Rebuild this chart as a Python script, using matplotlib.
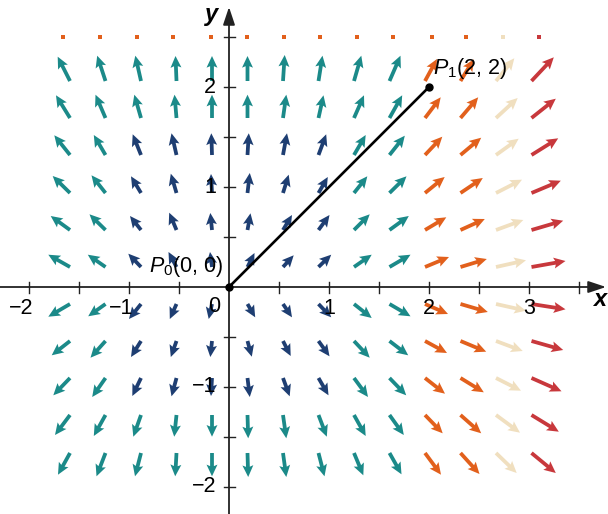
import matplotlib
matplotlib.use("Agg")
import matplotlib.pyplot as plt
import numpy as np

plt.rcParams["font.family"] = ["Liberation Sans", "DejaVu Sans"]
plt.rcParams["mathtext.fontset"] = "custom"
plt.rcParams["mathtext.rm"] = "Liberation Sans"
plt.rcParams["mathtext.it"] = "Liberation Sans:italic"

# arrow tails (grid columns / rows)
col_x = [-1.59, -1.235, -0.88, -0.525, -0.17, 0.185, 0.54, 0.895, 1.25, 1.605, 1.96, 2.315, 2.67, 3.025]
row_y = [2.06, 1.69, 1.32, 0.94, 0.57, 0.20, -0.17, -0.54, -0.91, -1.28, -1.66]

# arrow components (one list per row, left to right)
U = [
    [-0.123, -0.083, -0.057, -0.010, 0.000, 0.000, 0.017, 0.040, 0.073, 0.110, 0.120, 0.133, 0.183, 0.223],
    [-0.140, -0.100, -0.067, -0.020, 0.000, 0.000, 0.033, 0.050, 0.100, 0.127, 0.157, 0.177, 0.217, 0.243],
    [-0.157, -0.117, -0.083, -0.050, -0.007, 0.013, 0.040, 0.077, 0.117, 0.153, 0.173, 0.207, 0.227, 0.267],
    [-0.173, -0.140, -0.100, -0.057, -0.010, 0.023, 0.057, 0.093, 0.133, 0.170, 0.197, 0.223, 0.260, 0.293],
    [-0.193, -0.160, -0.110, -0.073, -0.017, 0.030, 0.090, 0.110, 0.157, 0.193, 0.213, 0.243, 0.273, 0.317],
    [-0.217, -0.177, -0.127, -0.080, -0.020, 0.070, 0.107, 0.127, 0.177, 0.210, 0.240, 0.263, 0.300, 0.340],
    [-0.217, -0.173, -0.120, -0.067, -0.033, 0.077, 0.090, 0.127, 0.177, 0.210, 0.230, 0.273, 0.300, 0.340],
    [-0.183, -0.150, -0.100, -0.057, -0.017, 0.043, 0.077, 0.110, 0.157, 0.187, 0.220, 0.257, 0.267, 0.317],
    [-0.167, -0.133, -0.087, -0.050, -0.010, 0.023, 0.067, 0.100, 0.140, 0.167, 0.200, 0.233, 0.250, 0.300],
    [-0.150, -0.117, -0.077, -0.023, 0.000, 0.007, 0.033, 0.083, 0.117, 0.143, 0.177, 0.207, 0.240, 0.273],
    [-0.120, -0.090, -0.060, -0.013, 0.000, 0.007, 0.033, 0.060, 0.093, 0.120, 0.160, 0.190, 0.207, 0.243],
]
V = [
    [0.243, 0.253, 0.253, 0.250, 0.250, 0.250, 0.260, 0.253, 0.253, 0.253, 0.220, 0.217, 0.227, 0.237],
    [0.227, 0.233, 0.233, 0.233, 0.233, 0.233, 0.233, 0.227, 0.227, 0.227, 0.207, 0.207, 0.200, 0.193],
    [0.197, 0.200, 0.207, 0.217, 0.217, 0.217, 0.217, 0.207, 0.200, 0.193, 0.183, 0.173, 0.163, 0.167],
    [0.170, 0.177, 0.167, 0.193, 0.190, 0.200, 0.183, 0.160, 0.167, 0.167, 0.160, 0.150, 0.133, 0.123],
    [0.140, 0.157, 0.140, 0.173, 0.170, 0.167, 0.150, 0.150, 0.157, 0.140, 0.127, 0.110, 0.100, 0.093],
    [0.123, 0.123, 0.133, 0.150, 0.150, 0.140, 0.117, 0.123, 0.123, 0.123, 0.100, 0.080, 0.067, 0.060],
    [-0.127, -0.123, -0.150, -0.150, -0.150, -0.133, -0.133, -0.133, -0.140, -0.123, -0.100, -0.080, -0.067, -0.053],
    [-0.143, -0.167, -0.160, -0.160, -0.160, -0.157, -0.150, -0.153, -0.167, -0.143, -0.120, -0.107, -0.100, -0.090],
    [-0.173, -0.190, -0.180, -0.183, -0.180, -0.190, -0.183, -0.173, -0.190, -0.173, -0.157, -0.143, -0.127, -0.133],
    [-0.200, -0.210, -0.217, -0.217, -0.217, -0.233, -0.233, -0.217, -0.210, -0.200, -0.183, -0.183, -0.177, -0.167],
    [-0.217, -0.233, -0.233, -0.233, -0.233, -0.240, -0.240, -0.233, -0.223, -0.213, -0.217, -0.210, -0.200, -0.200],
]
# colour class of each arrow: b navy, t teal, o orange, c cream, r red
arrow_cls = [
    "ttttttttttoocr",
    "ttttttttttoocr",
    "ttbbbbbbttoocr",
    "ttbbbbbbttoocr",
    "ttbbbbbbttoocr",
    "ttbbbbbbttoocr",
    "ttbbbbbbttoocr",
    "ttbbbbbbttoocr",
    "ttbbbbbbttoocr",
    "ttttttttttoocr",
    "ttttttttttoocr",
]

# tiny vectors along the top row, drawn as dots
dot_x = [-1.66, -1.29, -0.92, -0.56, -0.18, 0.18, 0.55, 0.91, 1.28, 1.64, 2.03, 2.37, 2.74, 3.10]
dot_y = 2.50
dot_cls = "oooooooooooocr"

palette = {"b": "#1e3e72", "t": "#1b8a89", "o": "#e2601c", "c": "#f0dfbf", "r": "#c8383c"}

# path
path_x = [0, 2]
path_y = [0, 2]

x_ticks = [-2, -1.5, -1, -0.5, 0.5, 1, 1.5, 2, 2.5, 3, 3.5]
y_ticks = [-2, -1.5, -1, -0.5, 0.5, 1, 1.5, 2, 2.5]
x_labels = {-2: "\u22122", -1: "\u22121", 1: "1", 2: "2", 3: "3"}
y_labels = {-2: "\u22122", -1: "\u22121", 1: "1", 2: "2"}

fig = plt.figure(figsize=(6.08, 5.14), dpi=100)
ax = fig.add_axes([0, 0, 1, 1])
ax.set_xlim(-2.29, 3.79)
ax.set_ylim(-2.27, 2.87)
ax.set_axis_off()

X, Y = np.meshgrid(col_x, row_y)
U = np.array(U)
V = np.array(V)
C = [palette[ch] for row in arrow_cls for ch in row]
ax.quiver(X.ravel(), Y.ravel(), U.ravel(), V.ravel(), color=C,
          angles="xy", scale_units="xy", scale=1, pivot="tail",
          width=0.0062, headwidth=2.9, headlength=3.1, headaxislength=2.7,
          zorder=2)

ax.scatter(dot_x, [dot_y] * len(dot_x), s=6, marker="s",
           c=[palette[ch] for ch in dot_cls], linewidths=0, zorder=2)

# axes with arrowheads
axis_col = "#222222"
ax.annotate("", xy=(3.77, 0), xytext=(-2.29, 0),
            arrowprops=dict(arrowstyle="-|>,head_length=0.6,head_width=0.2",
                            color=axis_col, lw=1.3, mutation_scale=18,
                            shrinkA=0, shrinkB=0), zorder=3)
ax.annotate("", xy=(0, 2.8), xytext=(0, -2.27),
            arrowprops=dict(arrowstyle="-|>,head_length=0.6,head_width=0.2",
                            color=axis_col, lw=1.3, mutation_scale=18,
                            shrinkA=0, shrinkB=0), zorder=3)
tl = 0.055
for t in x_ticks:
    ax.plot([t, t], [-tl, tl], color=axis_col, lw=1.0, zorder=3)
for t in y_ticks:
    ax.plot([-tl, tl], [t, t], color=axis_col, lw=1.0, zorder=3)

fs = 15.5
for t, s in x_labels.items():
    shift = -0.08 if t < 0 else 0
    ax.text(t + shift, -0.21, s, ha="center", va="center", fontsize=fs, zorder=4)
for t, s in y_labels.items():
    ax.text(-0.13, t, s, ha="right", va="center", fontsize=fs, zorder=4)
ax.text(-0.15, -0.2, "0", ha="center", va="center", fontsize=fs, zorder=4)

ax.text(3.71, -0.12, "x", ha="center", va="center", fontsize=17,
        fontstyle="italic", fontweight="bold", zorder=4)
ax.text(-0.17, 2.73, "y", ha="center", va="center", fontsize=17,
        fontstyle="italic", fontweight="bold", zorder=4)

ax.plot(path_x, path_y, color="black", lw=1.9, zorder=5)
ax.plot(path_x, path_y, "o", color="black", markersize=5, zorder=6)
ax.text(-0.06, 0.15, r"$P_0$(0, 0)", ha="right", va="baseline", fontsize=fs, zorder=7)
ax.text(2.04, 2.13, r"$P_1$(2, 2)", ha="left", va="baseline", fontsize=fs, zorder=7)

fig.savefig("out.png", dpi=100)
